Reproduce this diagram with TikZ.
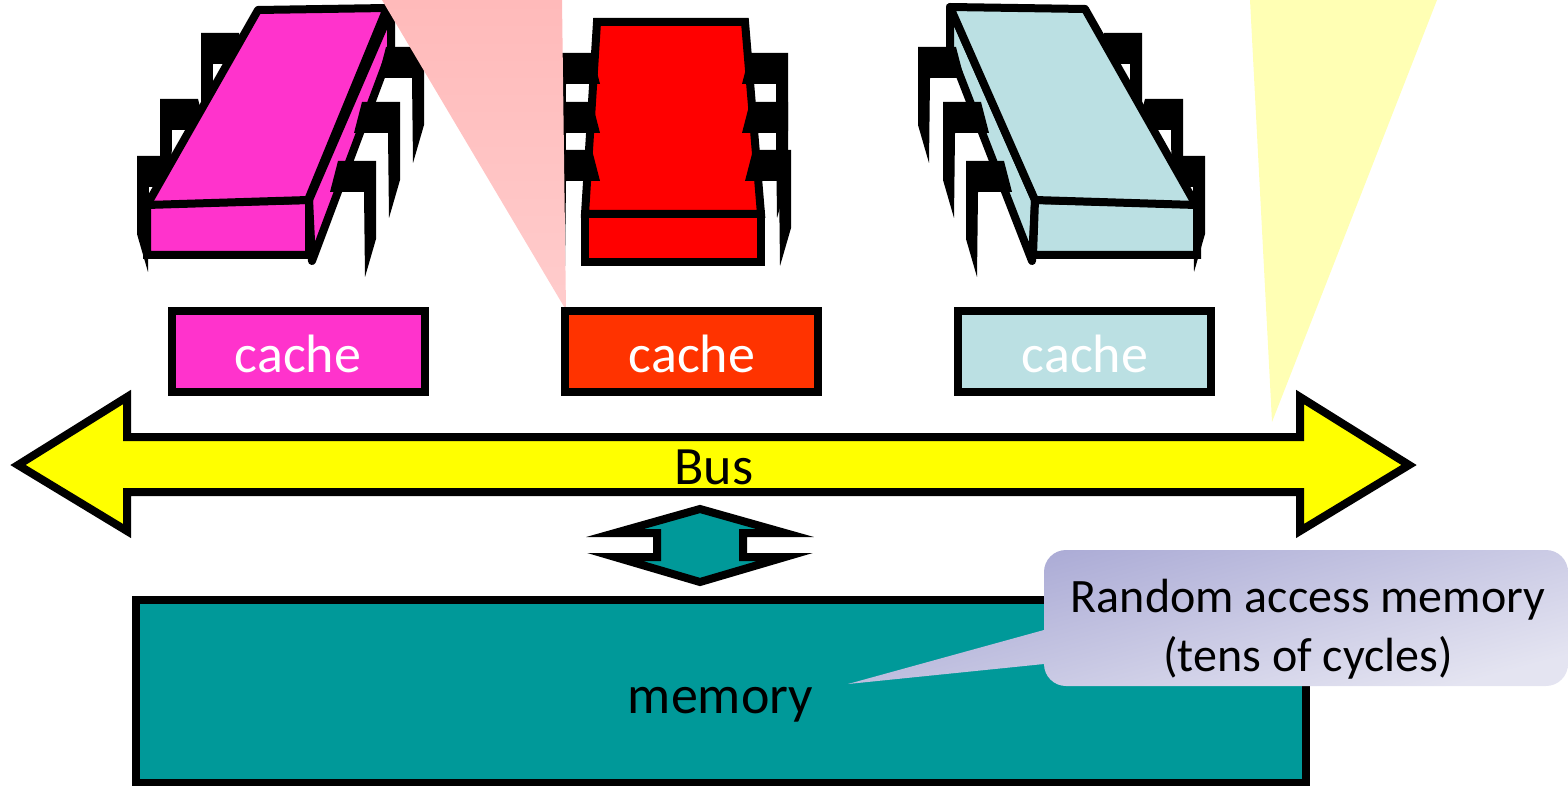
\documentclass[tikz,border=0pt]{standalone}
\usepackage{fontspec}
\setmainfont{Carlito}
\definecolor{chipPink}{HTML}{FF33CC}
\definecolor{chipRed}{HTML}{FF0000}
\definecolor{chipBlue}{HTML}{BBE0E3}
\definecolor{cacheRed}{HTML}{FF3300}
\definecolor{memTeal}{HTML}{009999}
\definecolor{busYellow}{HTML}{FFFF00}
\definecolor{beamPinkTop}{HTML}{FFBABA}
\definecolor{beamPinkBottom}{HTML}{FFCCCC}
\definecolor{beamYellow}{HTML}{FFFFB4}
\definecolor{noteDark}{HTML}{A6A6D3}
\definecolor{noteLight}{HTML}{E4E4F1}
\newcommand{\pinRight}[2]{\fill (#1-46,#2+31) -- (#1-38,#2) -- (#1,#2) -- (#1,#2+78) -- (#1-11,#2+116) -- (#1-12,#2+31) -- cycle;}
\newcommand{\pinLeft}[2]{\fill (#1+46,#2+31) -- (#1+38,#2) -- (#1,#2) -- (#1,#2+78) -- (#1+11,#2+116) -- (#1+12,#2+31) -- cycle;}
\tikzset{
	chip/.style={draw, line width=4pt},
	cachebox/.style={rectangle, draw, line width=4pt, minimum width=126.5pt, minimum height=40.5pt},
	bigtext/.style={font=\fontsize{27}{32}\selectfont},
	notetext/.style={font=\fontsize{24}{29.5}\selectfont}
}
\begin{document}
\begin{tikzpicture}[x=0.5pt,y=-0.5pt]
		\useasboundingbox (0,0) rectangle (1568,786);
		
		%First chip
		\pinLeft{137}{156}
		\pinLeft{160}{99}
		\pinLeft{201}{33}
		\draw[chip, line join=round, fill=chipPink] (309,200) -- (391,10) -- (391,50) -- (312,261) -- cycle;
		\draw[chip, fill=chipPink] (147,204) -- (309,200) -- (309,255) -- (147,255) -- cycle;
		\draw[chip, line join=round, fill=chipPink] (258,10) -- (387,8) -- (308,200) -- (147,205) -- cycle;
		\pinRight{376}{161}
		\pinRight{400}{102}
		\pinRight{424}{47}
		
		%Second chip
		\draw[chip, fill=chipRed] (597,22) -- (745,22) -- (761,214) -- (585,214) -- cycle;
		\draw[chip, fill=chipRed] (585,214) -- (761,214) -- (761,262) -- (585,262) -- cycle;
		\pinLeft{554}{53}
		\pinLeft{554}{102}
		\pinLeft{554}{150}
		\pinRight{788}{53}
		\pinRight{788}{102}
		\pinRight{791}{150}
		
		%Third chip
		\pinRight{1142}{33}
		\pinRight{1183}{99}
		\pinRight{1205}{156}
		\draw[chip, line join=round, fill=chipBlue] (1035,200) -- (950,7) -- (950,50) -- (1032,261) -- cycle;
		\draw[chip, fill=chipBlue] (1035,200) -- (1197,204) -- (1197,255) -- (1033,255) -- cycle;
		\draw[chip, line join=round, fill=chipBlue] (950,7) -- (1085,9) -- (1196,205) -- (1035,200) -- cycle;
		\pinLeft{918}{47}
		\pinLeft{943}{102}
		\pinLeft{966}{161}
		
		%Light beams
		\shade[top color=beamPinkTop, bottom color=beamPinkBottom] (382,0) -- (562,0) -- (566,310) -- cycle;
		\fill[beamYellow] (1250,0) -- (1437,0) -- (1272,422) -- cycle;
		
		%Caches
		\node (firstCache) at (298.5,351.5) [cachebox, fill=chipPink]{};
		\node (secondCache) at (691.5,351.5) [cachebox, fill=cacheRed]{};
		\node (thirdCache) at (1084.5,351.5) [cachebox, fill=chipBlue]{};
		\node (firstLabel) at (298,354) [bigtext, text=white]{cache};
		\node (secondLabel) at (692,354) [bigtext, text=white]{cache};
		\node (thirdLabel) at (1085,354) [bigtext, text=white]{cache};
		
		%Bus
		\draw[line width=4pt, fill=busYellow] (18,465) -- (127,397) -- (127,437) -- (1300,437) -- (1300,397) -- (1409,465) -- (1300,531) -- (1300,492) -- (127,492) -- (127,531) -- cycle;
		\node (bus) at (714,467) [bigtext]{Bus};
		
		%Memory
		\draw[line width=4pt, fill=memTeal] (700,509) -- (785,533) -- (743,533) -- (743,557) -- (785,557) -- (700,582) -- (615,557) -- (657,557) -- (657,533) -- (615,533) -- cycle;
		\node (memory) at (720.5,691.5) [rectangle, draw, line width=4pt, fill=memTeal, minimum width=585pt, minimum height=91.5pt]{};
		\node (memoryLabel) at (720.5,705) [bigtext]{memory};
		
		%Callout
		\shade[top color=noteDark, bottom color=noteLight, shading angle=15, rounded corners=11pt] (1044,630) -- (1044,550) -- (1568,550) -- (1568,686) -- (1044,686) [sharp corners] -- (1044,664) -- (848,684) -- cycle;
		\node (ram) at (1308,629) [align=center, notetext]{Random access memory\\(tens of cycles)};
		
		\end{tikzpicture}
\end{document}
